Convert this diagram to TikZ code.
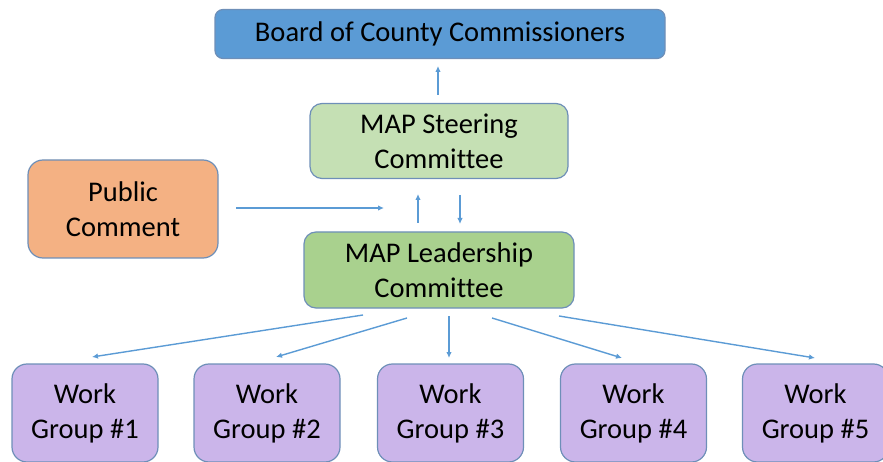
\documentclass[tikz,border=0pt]{standalone}
\usepackage{fontspec}
\setmainfont{Carlito}[Ligatures=CommonOff]
\usetikzlibrary{arrows.meta}
\definecolor{boardfill}{HTML}{5B9BD5}
\definecolor{steerfill}{HTML}{C5E0B4}
\definecolor{publicfill}{HTML}{F4B183}
\definecolor{leadfill}{HTML}{A9D18E}
\definecolor{workfill}{HTML}{CBB5EA}
\definecolor{edgeblue}{HTML}{6E8FB8}
\definecolor{arrowblue}{HTML}{5B9BD5}
\tikzset{
  box/.style={draw=edgeblue, line width=1.2pt, inner sep=0pt, align=center,
    font=\fontsize{28.5}{35}\selectfont, text=black},
  conn/.style={draw=arrowblue, line width=1.4pt, -{Latex[length=6pt,width=5.5pt]}},
}
\begin{document}
\begin{tikzpicture}[x=1pt,y=-1pt]
\useasboundingbox (0,0) rectangle (883,462);
\clip (0,0) rectangle (883,462);
\node[box, fill=boardfill, rounded corners=8pt, minimum width=450pt, minimum height=49pt] (board) at (440,34) {Board of County Commissioners};
\node[box, fill=steerfill, rounded corners=12pt, minimum width=258pt, minimum height=75pt] (steer) at (439,141) {MAP Steering\\Committee};
\node[box, fill=publicfill, rounded corners=15pt, minimum width=190pt, minimum height=98pt] (public) at (123,209) {Public\\Comment};
\node[box, fill=leadfill, rounded corners=12pt, minimum width=270pt, minimum height=76pt] (lead) at (439,270) {MAP Leadership\\Committee};
\foreach \i/\x in {1/85,2/267,3/450.5,4/633.5,5/815.5}{
  \node[box, fill=workfill, rounded corners=15pt, minimum width=146pt, minimum height=98pt] (wg\i) at (\x,413) {Work\\Group \#\i};
}
% free arrow end points
\coordinate (a0s) at (438,95);   \coordinate (a0e) at (438,66);
\coordinate (pcs) at (236,208);  \coordinate (pce) at (384,208);
\coordinate (ups) at (418,223);  \coordinate (upe) at (418,194);
\coordinate (dns) at (460,195);  \coordinate (dne) at (460,224);
\coordinate (w1s) at (363,315);  \coordinate (w1e) at (92,357);
\coordinate (w2s) at (407,318);  \coordinate (w2e) at (276,357);
\coordinate (w3s) at (449,316);  \coordinate (w3e) at (449,358);
\coordinate (w4s) at (492,318);  \coordinate (w4e) at (622,358);
\coordinate (w5s) at (559,316);  \coordinate (w5e) at (815,358);
\draw[conn] (a0s) -- (a0e);
\draw[conn] (pcs) -- (pce);
\draw[conn] (ups) -- (upe);
\draw[conn] (dns) -- (dne);
\foreach \i in {1,...,5}{ \draw[conn] (w\i s) -- (w\i e); }
\end{tikzpicture}
\end{document}
